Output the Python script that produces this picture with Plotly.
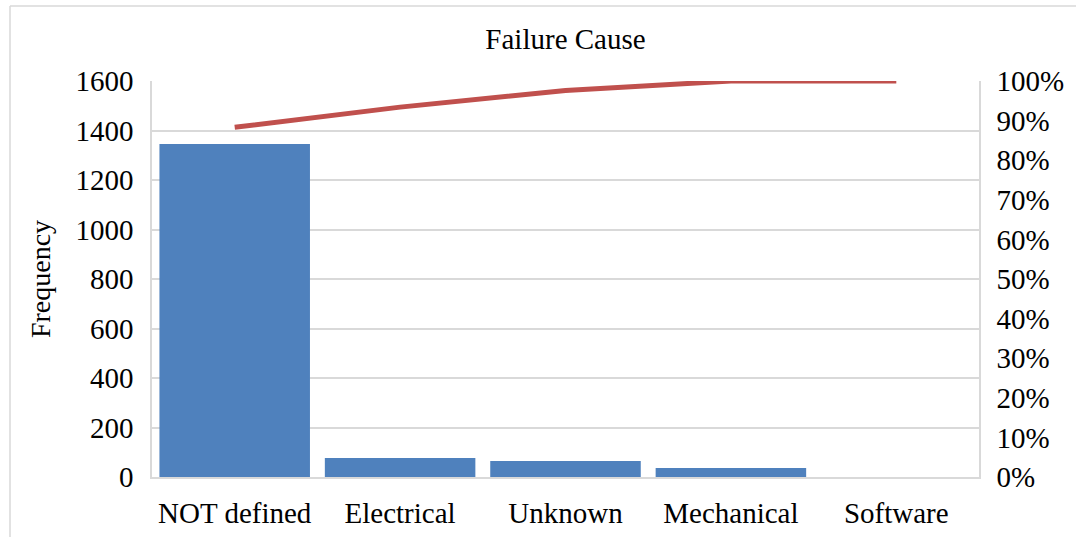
import plotly.graph_objects as go

# Failure cause counts (Pareto order)
causes = ["NOT defined", "Electrical", "Unknown", "Mechanical", "Software"]
frequency = [1345, 77, 65, 36, 0]
# Cumulative share of all failures, in percent
cumulative_pct = [88.3, 93.4, 97.6, 100.0, 100.0]

left_ticks = [0, 200, 400, 600, 800, 1000, 1200, 1400, 1600]
right_ticks = [0, 10, 20, 30, 40, 50, 60, 70, 80, 90, 100]

FONT = "Liberation Serif, Times New Roman, serif"
GRID = "#d9d9d9"
TICK_SIZE = 29

fig = go.Figure()
fig.add_trace(go.Bar(
    x=causes, y=frequency,
    marker=dict(color="#4f81bd", line=dict(width=0)),
    yaxis="y", name="Frequency",
))
fig.add_trace(go.Scatter(
    x=causes, y=cumulative_pct,
    mode="lines", line=dict(color="#c0504d", width=5, shape="linear"),
    yaxis="y2", name="Cumulative %",
))

W, H = 1076, 537
ml, mr, mt, mb = 152, 97, 81, 60
pw, ph = W - ml - mr, H - mt - mb

# outer chart frame (top and left edges)
x_left = (10 - ml) / pw
y_top = (H - 6 - mb) / ph
fig.add_shape(type="line", xref="paper", yref="paper",
              x0=x_left, x1=(W - ml) / pw, y0=y_top, y1=y_top,
              line=dict(color=GRID, width=1.5))
fig.add_shape(type="line", xref="paper", yref="paper",
              x0=x_left, x1=x_left, y0=-mb / ph, y1=y_top,
              line=dict(color=GRID, width=1.5))

fig.update_layout(
    width=W, height=H,
    margin=dict(l=ml, r=mr, t=mt, b=mb, autoexpand=False),
    paper_bgcolor="white", plot_bgcolor="white",
    showlegend=False,
    bargap=0.09,
    font=dict(family=FONT, color="black", size=TICK_SIZE),
    title=dict(text="Failure Cause", x=0.5, xref="paper", y=1 - 39 / H,
               yanchor="middle", font=dict(family=FONT, size=29)),
    xaxis=dict(
        showgrid=False, showline=True, linecolor=GRID, linewidth=1.5,
        ticks="", tickfont=dict(size=TICK_SIZE), ticklabelstandoff=9,
        automargin=False,
    ),
    yaxis=dict(
        range=[0, 1600], tickvals=left_ticks, showgrid=True,
        gridcolor=GRID, gridwidth=1.5, showline=True, linecolor=GRID,
        linewidth=1.5, ticks="", zeroline=False,
        tickfont=dict(size=TICK_SIZE), ticklabelstandoff=11,
        title=dict(text="Frequency", font=dict(size=28), standoff=17),
        automargin=False,
    ),
    yaxis2=dict(
        range=[0, 100], tickvals=right_ticks,
        ticktext=[f"{t}%" for t in right_ticks],
        overlaying="y", side="right", showgrid=False,
        showline=True, linecolor=GRID, linewidth=1.5, ticks="",
        zeroline=False, tickfont=dict(size=TICK_SIZE), ticklabelstandoff=10,
        automargin=False,
    ),
)

fig.write_html("out.html")
